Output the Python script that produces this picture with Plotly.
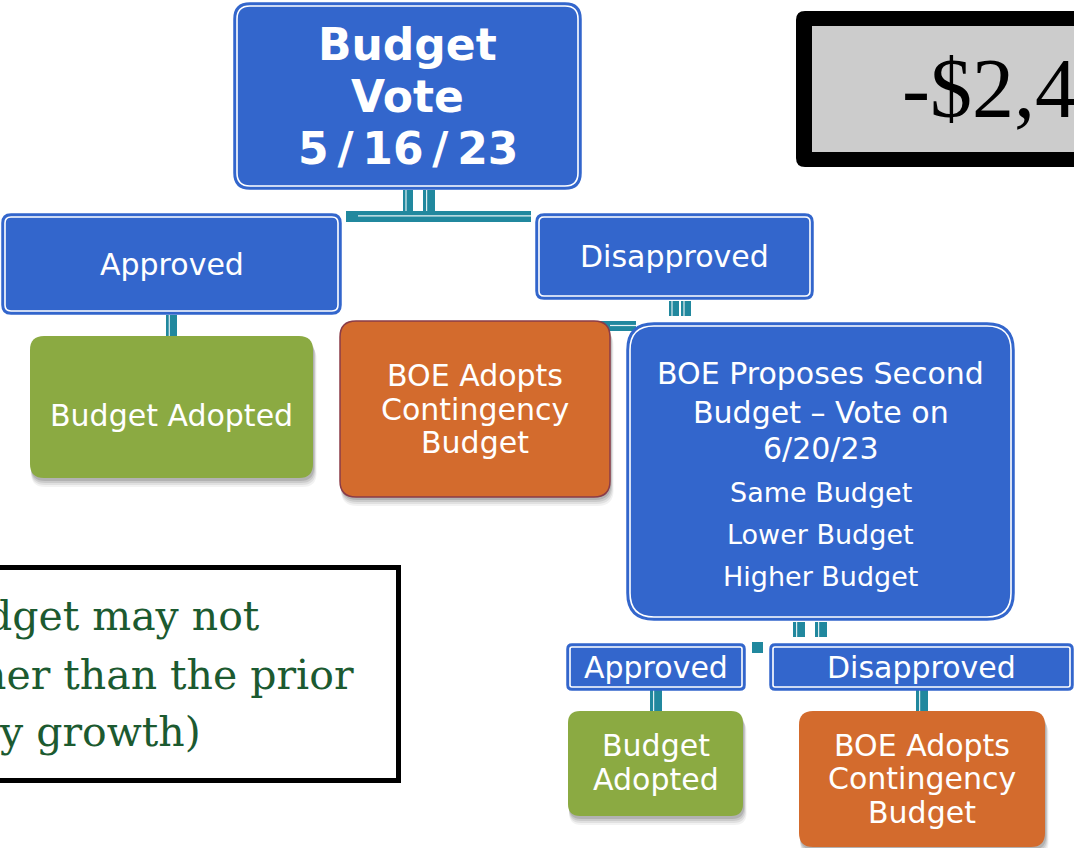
import plotly.graph_objects as go

# ---------------- data (text content) ----------------
vote_lines = ["Budget", "Vote", "5\u2009/\u200916\u2009/\u200923"]
approved_label = "Approved"
disapproved_label = "Disapproved"
adopted_lines = ["Budget Adopted"]
contingency_lines = ["BOE Adopts", "Contingency", "Budget"]
second_vote_lines = ["BOE Proposes Second", "Budget \u2013 Vote on", "6/20/23"]
second_vote_options = ["Same Budget", "Lower Budget", "Higher Budget"]
adopted2_lines = ["Budget", "Adopted"]
deficit_label = "-$2,4"
note_lines = ["dget may not", "her than the prior", "y growth)"]

# ---------------- styles ----------------
BLUE = "#3366CC"
GREEN = "#8BAA42"
ORANGE = "#D36B2D"
ORANGE_EDGE = "#8A3C48"
TEAL = "#21889E"
NOTE_GREEN = "#1C5A30"
SANS = "DejaVu Sans"
SERIF_NOTE = "DejaVu Serif"
SERIF_BIG = "Liberation Serif"
CLEAR = "rgba(0,0,0,0)"

W, H = 1074, 848

shapes = []
annotations = []


def rr(x0, y0, x1, y1, r):
    return (f"M {x0 + r},{y0} L {x1 - r},{y0} Q {x1},{y0} {x1},{y0 + r} "
            f"L {x1},{y1 - r} Q {x1},{y1} {x1 - r},{y1} L {x0 + r},{y1} "
            f"Q {x0},{y1} {x0},{y1 - r} L {x0},{y0 + r} Q {x0},{y0} {x0 + r},{y0} Z")


def add_path(path, fill, line_color=CLEAR, line_width=0):
    shapes.append(dict(type="path", xref="x", yref="y", path=path,
                       fillcolor=fill, layer="above",
                       line=dict(color=line_color, width=line_width)))


def add_rect(x0, y0, x1, y1, fill, line_color=CLEAR, line_width=0):
    shapes.append(dict(type="rect", xref="x", yref="y", x0=x0, y0=y0, x1=x1, y1=y1,
                       fillcolor=fill, layer="above",
                       line=dict(color=line_color, width=line_width)))


def blue_box(x0, y0, x1, y1, r):
    add_path(rr(x0, y0, x1, y1, r), BLUE, BLUE, 1.5)
    add_path(rr(x0 + 3, y0 + 3, x1 - 3, y1 - 3, max(r - 3, 1)), CLEAR, "white", 1.6)


def solid_box(x0, y0, x1, y1, r, fill, edge=None):
    for d, a in [(9, 0.05), (7, 0.07), (5, 0.09), (3, 0.12)]:
        add_path(rr(x0 + 1, y0 + d, x1 + d * 0.4, y1 + d, r), f"rgba(0,0,0,{a})")
    if edge:
        add_path(rr(x0, y0, x1, y1, r), fill, edge, 1.5)
    else:
        add_path(rr(x0, y0, x1, y1, r), fill)


def connector(x0, y0, x1, y1, vertical=True):
    add_rect(x0, y0, x1, y1, TEAL)
    if vertical:
        xm = x0 + (x1 - x0) * 0.3
        shapes.append(dict(type="line", xref="x", yref="y", x0=xm, x1=xm, y0=y0, y1=y1,
                           layer="above", line=dict(color="rgba(255,255,255,0.85)", width=1.2)))
    else:
        ym = y0 + (y1 - y0) * 0.45
        shapes.append(dict(type="line", xref="x", yref="y", x0=x0 + 12, x1=x1, y0=ym, y1=ym,
                           layer="above", line=dict(color="rgba(255,255,255,0.9)", width=1.2)))


def text(x, y, s, size, color="white", family=SANS, bold=False, xanchor="center"):
    annotations.append(dict(x=x, y=y, xref="x", yref="y", text=f"<b>{s}</b>" if bold else s,
                            showarrow=False, xanchor=xanchor, yanchor="middle",
                            font=dict(family=family, size=size, color=color)))


# ---------------- connectors (drawn first, behind boxes) ----------------
connector(403, 190, 413, 213)
connector(423, 190, 435, 213)
connector(346, 211, 531, 222, vertical=False)
connector(166, 315, 177, 338)
connector(669, 301, 679, 316)
connector(681, 301, 691, 316)
connector(598, 321, 636, 331, vertical=False)
connector(793, 622, 805, 637)
connector(815, 622, 827, 637)
connector(752, 642, 763, 653, vertical=False)
connector(650, 690, 662, 712)
connector(916, 690, 928, 712)

# ---------------- boxes ----------------
blue_box(234, 3, 581, 189, 16)
blue_box(2, 214, 341, 314, 9)
blue_box(536, 214, 813, 299, 8)
solid_box(30, 336, 313, 478, 14, GREEN)
solid_box(340, 321, 610, 497, 16, ORANGE, ORANGE_EDGE)
blue_box(627, 323, 1014, 620, 27)
blue_box(567, 644, 745, 690, 5)
blue_box(770, 644, 1073, 690, 5)
solid_box(568, 711, 743, 816, 12, GREEN)
solid_box(799, 711, 1045, 847, 14, ORANGE)

# top-right figure box
add_path(rr(796, 11, 1090, 167, 9), "#000000")
add_rect(812, 26, 1090, 152, "#CCCCCC")

# bottom-left note box
add_rect(-20, 567.5, 398.5, 780.5, "white", "#000000", 5)

# ---------------- texts ----------------
for s, y in zip(vote_lines, [44, 96, 148]):
    text(407.5, y, s, 44, bold=True)
text(171.5, 264, approved_label, 30)
text(674.5, 256, disapproved_label, 30)
for s, y in zip(adopted_lines, [415]):
    text(171.5, y, s, 30)
for s, y in zip(contingency_lines, [375, 409, 442]):
    text(475, y, s, 30)
for s, y in zip(second_vote_lines, [373, 412, 448]):
    text(820.5, y, s, 30)
for s, y in zip(second_vote_options, [492, 534, 576]):
    text(820.5, y, s, 27)
text(656, 667, approved_label, 30)
text(921.5, 667, disapproved_label, 30)
for s, y in zip(adopted2_lines, [745, 779]):
    text(655.5, y, s, 30)
for s, y in zip(contingency_lines, [745, 778, 812]):
    text(922, y, s, 30)

text(900, 88, deficit_label, 84, color="#000000", family=SERIF_BIG, xanchor="left")

for s, x, y in zip(note_lines, [262, 356, 203], [616, 675, 732]):
    text(x, y, s, 41, color=NOTE_GREEN, family=SERIF_NOTE, xanchor="right")

fig = go.Figure(go.Scatter(x=[], y=[], mode="markers", showlegend=False))
fig.update_layout(
    width=W, height=H,
    margin=dict(l=0, r=0, t=0, b=0),
    paper_bgcolor="white", plot_bgcolor="white",
    xaxis=dict(range=[0, W], visible=False, fixedrange=True),
    yaxis=dict(range=[H, 0], visible=False, fixedrange=True),
    shapes=shapes,
    annotations=annotations,
    showlegend=False,
)

fig.write_html("out.html", config={"displayModeBar": False},
               post_script="document.body.style.margin='0';document.body.style.overflow='hidden';")
